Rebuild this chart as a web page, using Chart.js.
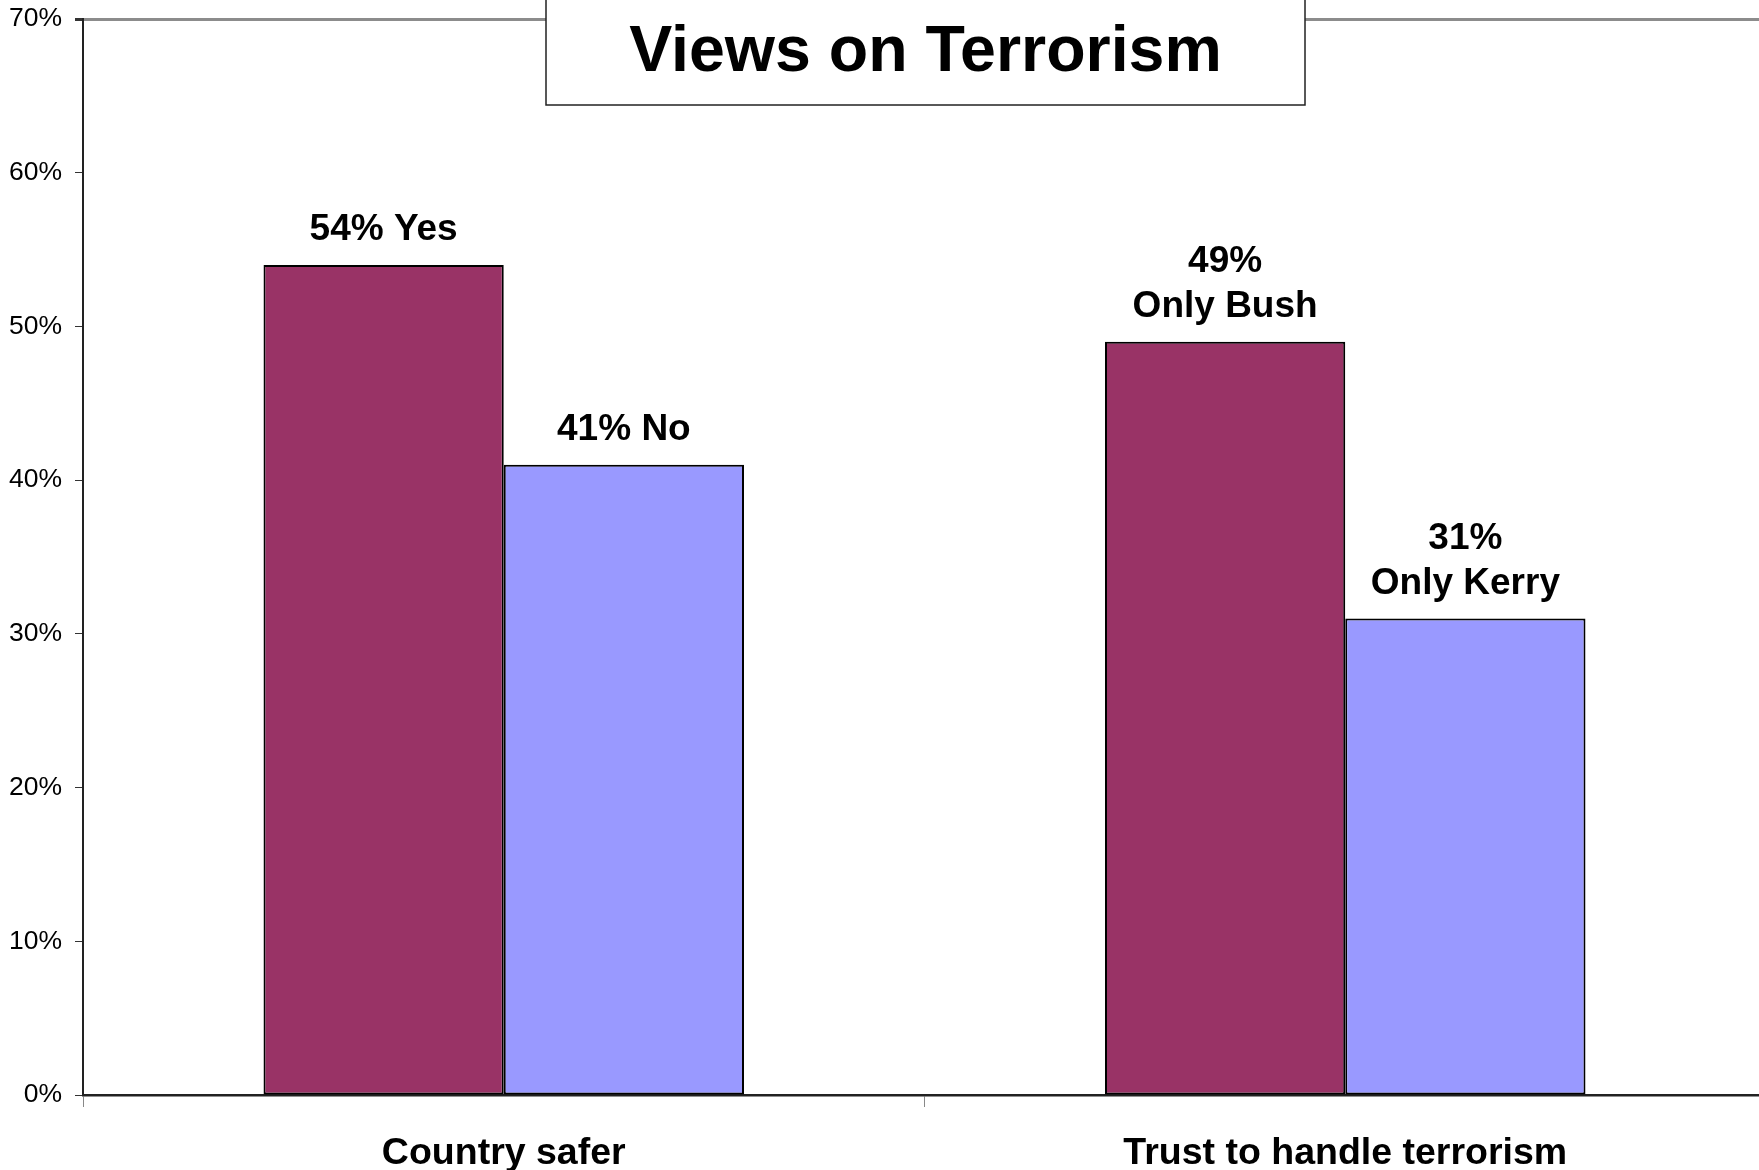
<!DOCTYPE html>
<html>
<head>
<meta charset="utf-8">
<title>Views on Terrorism</title>
<script src="https://cdn.jsdelivr.net/npm/chart.js@4"></script>
<style>
  html, body { margin: 0; padding: 0; background: #fff; overflow: hidden; }
  #wrap { width: 1766px; height: 1170px; position: relative; }
</style>
</head>
<body>
<div id="wrap"><canvas id="chart"></canvas></div>
<script>
const chartTitle = "Views on Terrorism"
const categories = ["Country safer", "Trust to handle terrorism"]
const firstValues = [54, 49]
const secondValues = [41, 31]
const firstLabels = [["54% Yes"], ["49%", "Only Bush"]]
const secondLabels = [["41% No"], ["31%", "Only Kerry"]]
const yTicks = [0, 10, 20, 30, 40, 50, 60, 70]

const fontFamily = "'Liberation Sans', Arial, Helvetica, sans-serif"

// value labels above each bar
const barLabels = {
  id: "barLabels",
  afterDatasetsDraw(chart) {
    const ctx = chart.ctx
    const sets = [firstLabels, secondLabels]
    ctx.save()
    ctx.fillStyle = "#000"
    ctx.font = "bold 37px " + fontFamily
    ctx.textAlign = "center"
    ctx.textBaseline = "middle"
    chart.data.datasets.forEach((ds, di) => {
      chart.getDatasetMeta(di).data.forEach((bar, i) => {
        const lines = sets[di][i]
        lines.forEach((line, li) => {
          const y = bar.y - 35 - (lines.length - 1 - li) * 45
          ctx.fillText(line, bar.x, y)
        })
      })
    })
    ctx.restore()
  }
}

// boxed title over the top of the plot
const titleBox = {
  id: "titleBox",
  afterDraw(chart) {
    const ctx = chart.ctx
    const left = 546, right = 1305, bottom = 105
    ctx.save()
    ctx.fillStyle = "#fff"
    ctx.fillRect(left, -2, right - left, bottom + 2)
    ctx.strokeStyle = "#222"
    ctx.lineWidth = 1.5
    ctx.strokeRect(left, -2, right - left, bottom + 2)
    ctx.fillStyle = "#000"
    ctx.font = "bold 64.5px " + fontFamily
    ctx.textAlign = "center"
    ctx.textBaseline = "middle"
    ctx.fillText(chartTitle, (left + right) / 2, 53)
    ctx.restore()
  }
}

const data = {
  labels: categories,
  datasets: [
    {
      data: firstValues,
      backgroundColor: "#993366",
      borderColor: "#000",
      borderWidth: 2,
      borderSkipped: false
    },
    {
      data: secondValues,
      backgroundColor: "#9999FF",
      borderColor: "#000",
      borderWidth: 2,
      borderSkipped: false
    }
  ]
}

const config = {
  type: "bar",
  data: data,
  options: {
    responsive: true,
    maintainAspectRatio: false,
    animation: false,
    layout: { padding: { top: 19, right: 0, bottom: 0, left: 0 } },
    datasets: {
      bar: { categoryPercentage: 0.571, barPercentage: 1 }
    },
    plugins: {
      legend: { display: false },
      title: { display: false },
      tooltip: { enabled: false }
    },
    scales: {
      x: {
        offset: true,
        grid: {
          offset: true,
          drawOnChartArea: false,
          drawTicks: true,
          tickLength: 12,
          tickColor: "#888"
        },
        border: { color: "#222", width: 2.5 },
        ticks: {
          color: "#000",
          padding: 24,
          font: { family: fontFamily, size: 37.5, weight: "bold" }
        },
        afterFit(scale) { scale.height = 75 }
      },
      y: {
        min: 0,
        max: 70,
        afterBuildTicks(scale) { scale.ticks = yTicks.map(v => ({ value: v })) },
        grid: {
          drawOnChartArea: true,
          color: ctx => (ctx.tick && ctx.tick.value === 70 ? "#8c8c8c" : "rgba(0,0,0,0)"),
          lineWidth: ctx => (ctx.tick && ctx.tick.value === 70 ? 3 : 1),
          tickColor: "#333",
          tickLength: 8
        },
        border: { color: "#222", width: 2 },
        ticks: {
          color: "#000",
          padding: 13,
          font: { family: fontFamily, size: 26.5 },
          callback: v => v + "%"
        },
        afterFit(scale) {
          scale.width = 83
          scale.paddingTop = 0
          scale.paddingBottom = 0
        }
      }
    }
  },
  plugins: [barLabels, titleBox]
}

new Chart(document.getElementById("chart"), config)
</script>
</body>
</html>
